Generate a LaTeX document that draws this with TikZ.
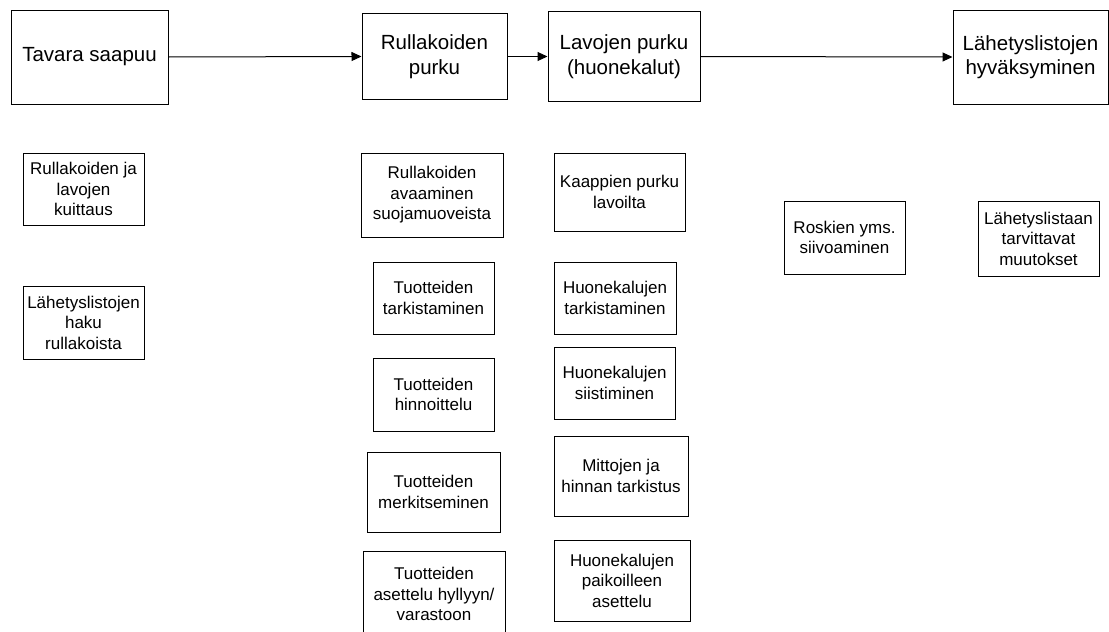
\documentclass[tikz,border=0pt]{standalone}
\usepackage{fontspec}
\setmainfont{Liberation Sans}
\usetikzlibrary{arrows.meta}
\begin{document}
\begin{tikzpicture}[x=1pt,y=-1pt,
  stage/.style={draw=black,line width=1pt,inner sep=0pt,align=center,
    font=\fontsize{20.5}{24.5}\selectfont},
  task/.style={draw=black,line width=1pt,inner sep=0pt,align=center,
    font=\fontsize{17}{20.5}\selectfont},
  flow/.style={line width=1pt,-{Triangle[length=10pt,width=9pt]}}]
\useasboundingbox (0,0) rectangle (1109,632);
\clip (0,0) rectangle (1109,632);
% main process stages
\node[stage,minimum width=157pt,minimum height=94pt] (tavara) at (89.5,57) {Tavara saapuu};
\node[stage,minimum width=145pt,minimum height=86pt] (rullakot) at (434.5,56.5) {Rullakoiden\\purku};
\node[stage,minimum width=152pt,minimum height=90pt] (lavat) at (624,56.5) {Lavojen purku\\(huonekalut)};
\node[stage,minimum width=155pt,minimum height=94pt] (hyvaksy) at (1030.5,57) {Lähetyslistojen\\hyväksyminen};
\draw[flow] (tavara.east) -- (rullakot.west);
\draw[flow] (rullakot.east) -- (lavat.west);
\draw[flow] (lavat.east) -- (hyvaksy.west);
% tasks under each stage
\node[task,minimum width=121pt,minimum height=72pt] (kuittaus) at (83.5,189) {Rullakoiden ja\\lavojen\\kuittaus};
\node[task,minimum width=121pt,minimum height=73pt] (haku) at (83.5,322.5) {Lähetyslistojen\\haku\\rullakoista};
\node[task,minimum width=142pt,minimum height=84pt] (avaus) at (432,195) {Rullakoiden\\avaaminen\\suojamuoveista};
\node[task,minimum width=121pt,minimum height=72pt] (ttark) at (433.5,298) {Tuotteiden\\tarkistaminen};
\node[task,minimum width=121pt,minimum height=73pt] (hinn) at (433.5,394.5) {Tuotteiden\\hinnoittelu};
\node[task,minimum width=133pt,minimum height=80pt] (merk) at (433.5,492) {Tuotteiden\\merkitseminen};
\node[task,minimum width=142pt,minimum height=86pt] (asett) at (434,594) {Tuotteiden\\asettelu hyllyyn/\\varastoon};
\node[task,minimum width=131pt,minimum height=78pt] (kaapit) at (619.5,192) {Kaappien purku\\lavoilta};
\node[task,minimum width=122pt,minimum height=72pt] (htark) at (615,298) {Huonekalujen\\tarkistaminen};
\node[task,minimum width=121pt,minimum height=72pt] (siist) at (614.5,383) {Huonekalujen\\siistiminen};
\node[task,minimum width=134pt,minimum height=80pt] (mitat) at (621,476) {Mittojen ja\\hinnan tarkistus};
\node[task,minimum width=136pt,minimum height=81pt] (paikat) at (622,580.5) {Huonekalujen\\paikoilleen\\asettelu};
\node[task,minimum width=121pt,minimum height=73pt] (roskat) at (844.5,237.5) {Roskien yms.\\siivoaminen};
\node[task,minimum width=121pt,minimum height=75pt] (muutos) at (1038.5,238.5) {Lähetyslistaan\\tarvittavat\\muutokset};
\end{tikzpicture}
\end{document}
